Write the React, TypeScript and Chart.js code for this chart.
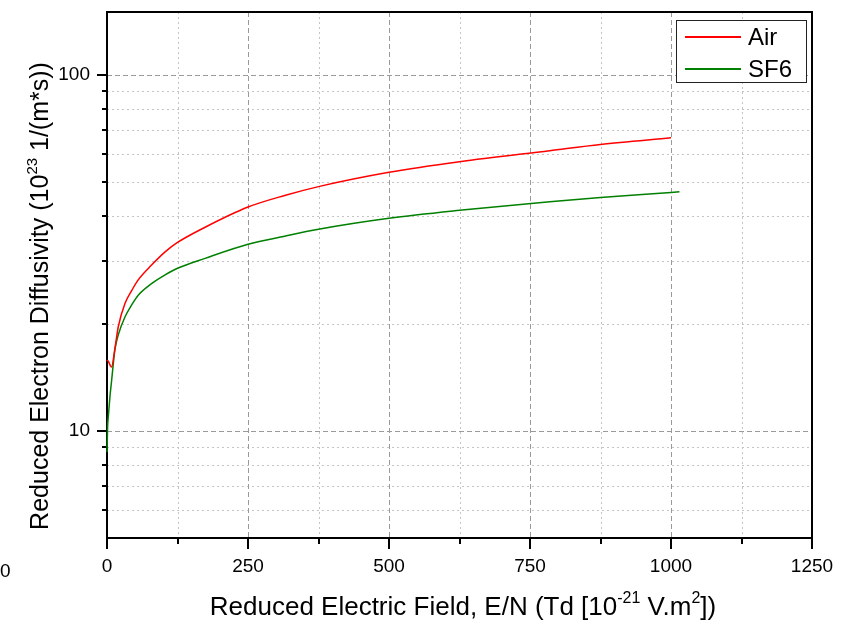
import React, { useEffect, useRef } from "react";
import { Chart, registerables } from "chart.js";

Chart.register(...registerables);

// ---- data ----
const airField = [0, 2, 8, 14, 20, 32, 44, 55, 79, 103, 125, 174, 250, 315, 375, 500, 625, 785, 875, 1000];
const airDiff = [15.8, 15.7, 15.1, 17.0, 19.6, 22.8, 24.8, 26.5, 29.2, 31.8, 33.8, 37.3, 42.5, 45.8, 48.5, 53.2, 57.0, 61.2, 63.7, 66.5];

const sf6Field = [0, 1, 2.4, 5.3, 8.3, 14, 20, 32, 44, 55, 79, 103, 125, 174, 250, 315, 375, 500, 625, 785, 875, 1000, 1015];
const sf6Diff = [8.7, 10.2, 11.0, 12.5, 13.9, 16.9, 18.6, 20.9, 22.6, 24.0, 25.9, 27.4, 28.6, 30.5, 33.4, 35.2, 36.8, 39.5, 41.6, 44.0, 45.2, 46.7, 46.9];

const seriesNames = ["Air", "SF6"];
const seriesColors = ["#ff0000", "#008000"];

const xMajorTicks = [0, 250, 500, 750, 1000, 1250];
const xMinorTicks = [125, 375, 625, 875, 1125];
const yMajorTicks = [10, 100];
const yMinorTicks = [6, 7, 8, 9, 20, 30, 40, 50, 60, 70, 80, 90];

const xTitle = [
  { t: "Reduced Electric Field, E/N (Td [10" },
  { t: "-21", sup: true },
  { t: " V.m" },
  { t: "2", sup: true },
  { t: "])" },
];
const yTitle = [
  { t: "Reduced Electron Diffusivity (10" },
  { t: "23", sup: true },
  { t: " 1/(m*s))" },
];

const FONT = '"Liberation Sans", Arial, sans-serif';

type Seg = { t: string; sup?: boolean };

function drawRich(ctx: CanvasRenderingContext2D, segs: Seg[], cx: number, baseY: number, size: number) {
  const supSize = Math.round(size * 0.6);
  let total = 0;
  for (const s of segs) {
    ctx.font = `${s.sup ? supSize : size}px ${FONT}`;
    total += ctx.measureText(s.t).width;
  }
  let x = cx - total / 2;
  ctx.textAlign = "left";
  ctx.textBaseline = "alphabetic";
  for (const s of segs) {
    ctx.font = `${s.sup ? supSize : size}px ${FONT}`;
    ctx.fillText(s.t, x, s.sup ? baseY - size * 0.45 : baseY);
    x += ctx.measureText(s.t).width;
  }
}

const decorPlugin = {
  id: "decor",
  beforeDatasetsDraw(chart: any) {
    const { ctx, chartArea: a, scales } = chart;
    const x = scales.x;
    const y = scales.y;
    ctx.save();
    ctx.lineWidth = 1;
    // minor grid
    ctx.strokeStyle = "#c4c4c4";
    ctx.setLineDash([2, 3]);
    for (const v of yMinorTicks) {
      const py = Math.round(y.getPixelForValue(v)) + 0.5;
      ctx.beginPath();
      ctx.moveTo(a.left, py);
      ctx.lineTo(a.right, py);
      ctx.stroke();
    }
    for (const v of xMinorTicks) {
      const px = Math.round(x.getPixelForValue(v)) + 0.5;
      ctx.beginPath();
      ctx.moveTo(px, a.top);
      ctx.lineTo(px, a.bottom);
      ctx.stroke();
    }
    // major grid
    ctx.strokeStyle = "#9a9a9a";
    ctx.setLineDash([5, 3]);
    for (const v of yMajorTicks) {
      const py = Math.round(y.getPixelForValue(v)) + 0.5;
      ctx.beginPath();
      ctx.moveTo(a.left, py);
      ctx.lineTo(a.right, py);
      ctx.stroke();
    }
    for (const v of xMajorTicks) {
      if (v <= x.min || v >= x.max) continue;
      const px = Math.round(x.getPixelForValue(v)) + 0.5;
      ctx.beginPath();
      ctx.moveTo(px, a.top);
      ctx.lineTo(px, a.bottom);
      ctx.stroke();
    }

    ctx.setLineDash([]);
    ctx.strokeStyle = "#000";
    ctx.lineWidth = 2;
    // frame
    ctx.strokeRect(a.left, a.top, a.right - a.left, a.bottom - a.top);
    // tick marks
    ctx.beginPath();
    for (const v of yMajorTicks) {
      const py = Math.round(y.getPixelForValue(v));
      ctx.moveTo(a.left - 10, py);
      ctx.lineTo(a.left, py);
    }
    for (const v of yMinorTicks) {
      const py = Math.round(y.getPixelForValue(v));
      ctx.moveTo(a.left - 5, py);
      ctx.lineTo(a.left, py);
    }
    for (const v of xMajorTicks) {
      const px = Math.round(x.getPixelForValue(v));
      ctx.moveTo(px, a.bottom);
      ctx.lineTo(px, a.bottom + 11);
    }
    for (const v of xMinorTicks) {
      const px = Math.round(x.getPixelForValue(v));
      ctx.moveTo(px, a.bottom);
      ctx.lineTo(px, a.bottom + 6);
    }
    ctx.stroke();
    ctx.restore();
  },
  afterDatasetsDraw(chart: any) {
    const { ctx, chartArea: a } = chart;
    ctx.save();
    ctx.setLineDash([]);

    // legend
    const lx = a.right - 136;
    const ly = a.top + 8;
    const lw = 130;
    const lh = 62;
    ctx.fillStyle = "#fff";
    ctx.fillRect(lx, ly, lw, lh);
    ctx.lineWidth = 1;
    ctx.strokeStyle = "#222";
    ctx.strokeRect(lx + 0.5, ly + 0.5, lw, lh);
    chart.data.datasets.forEach((ds: any, i: number) => {
      const cy = ly + 17 + i * 32;
      ctx.strokeStyle = ds.borderColor;
      ctx.lineWidth = 2;
      ctx.beginPath();
      ctx.moveTo(lx + 9, cy);
      ctx.lineTo(lx + 65, cy);
      ctx.stroke();
      ctx.fillStyle = "#000";
      ctx.font = `24px ${FONT}`;
      ctx.textAlign = "left";
      ctx.textBaseline = "middle";
      ctx.fillText(ds.label, lx + 72, cy + 1);
    });

    // axis titles
    ctx.fillStyle = "#000";
    drawRich(ctx, xTitle, 463, 615, 26);
    ctx.save();
    ctx.translate(48, 296);
    ctx.rotate(-Math.PI / 2);
    drawRich(ctx, yTitle, 0, 0, 25);
    ctx.restore();

    // stray clipped label at far left
    ctx.font = `19px ${FONT}`;
    ctx.textAlign = "left";
    ctx.textBaseline = "middle";
    ctx.fillText("0", 0, 572);
    ctx.restore();
  },
};

export default function App() {
  const ref = useRef<HTMLCanvasElement | null>(null);
  useEffect(() => {
    if (!ref.current) return;
    const chart = new Chart(ref.current, {
      type: "line",
      data: {
        datasets: [
          {
            label: seriesNames[0],
            data: airField.map((v, i) => ({ x: v, y: airDiff[i] })),
            borderColor: seriesColors[0],
            borderWidth: 1.5,
            pointRadius: 0,
            cubicInterpolationMode: "monotone",
            fill: false,
            clip: false,
          },
          {
            label: seriesNames[1],
            data: sf6Field.map((v, i) => ({ x: v, y: sf6Diff[i] })),
            borderColor: seriesColors[1],
            borderWidth: 1.5,
            pointRadius: 0,
            cubicInterpolationMode: "monotone",
            fill: false,
            clip: false,
          },
        ],
      },
      options: {
        animation: false,
        responsive: false,
        devicePixelRatio: 1,
        layout: { padding: { top: 12, right: 39, left: 0, bottom: 0 } },
        plugins: { legend: { display: false }, tooltip: { enabled: false } },
        scales: {
          x: {
            type: "linear",
            min: 0,
            max: 1250,
            bounds: "data",
            afterBuildTicks: (s: any) => {
              s.ticks = xMajorTicks.map((v) => ({ value: v }));
            },
            afterFit: (s: any) => {
              s.height = 86;
              s.paddingLeft = 0;
              s.paddingRight = 0;
            },
            grid: { display: false, drawTicks: true, tickLength: 11 },
            border: { display: false },
            ticks: {
              font: { family: FONT, size: 19 },
              color: "#000",
              padding: 6,
              maxRotation: 0,
              autoSkip: false,
              callback: (v: any) => String(v),
            },
          },
          y: {
            type: "logarithmic",
            min: 5,
            max: 150,
            bounds: "data",
            afterBuildTicks: (s: any) => {
              s.ticks = yMajorTicks.map((v) => ({ value: v }));
            },
            afterFit: (s: any) => {
              s.width = 107;
              s.paddingTop = 0;
              s.paddingBottom = 0;
            },
            grid: { display: false, drawTicks: true, tickLength: 10 },
            border: { display: false },
            ticks: {
              font: { family: FONT, size: 19 },
              color: "#000",
              padding: 7,
              autoSkip: false,
              callback: (v: any) => String(v),
            },
          },
        },
      },
      plugins: [decorPlugin],
    } as any);
    return () => chart.destroy();
  }, []);
  return (
    <div style={{ position: "absolute", left: 0, top: 0, width: 851, height: 624 }}>
      <canvas ref={ref} width={851} height={624} style={{ display: "block" }} />
    </div>
  );
}
